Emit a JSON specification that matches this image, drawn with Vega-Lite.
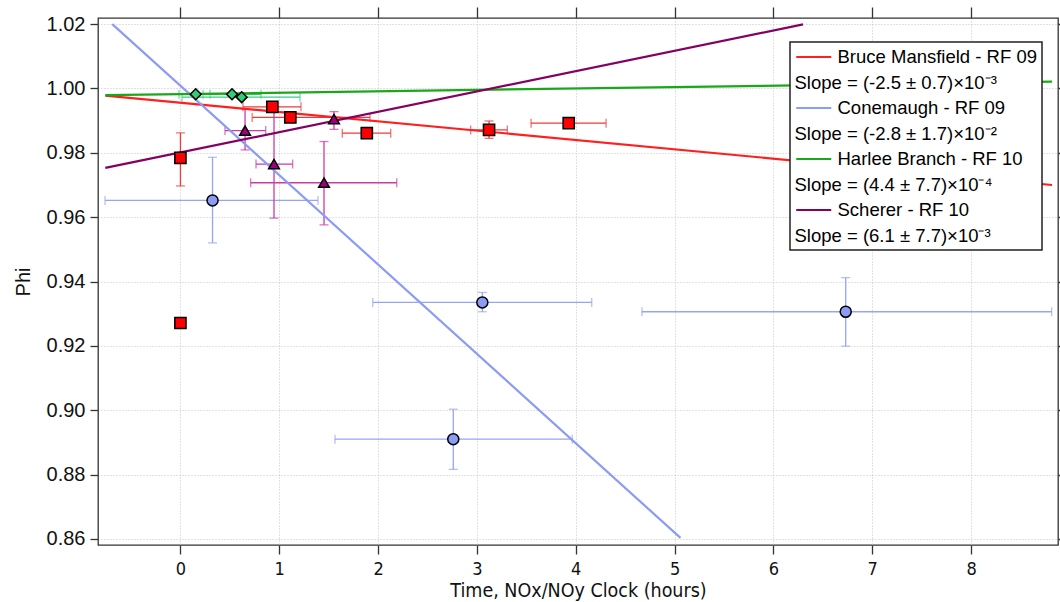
{
  "$schema": "https://vega.github.io/schema/vega-lite/v6.json",
  "autosize": {"type": "none"},
  "width": 960,
  "height": 527,
  "padding": {"left": 98, "top": 18, "right": 2, "bottom": 57},
  "background": "white",
  "datasets": {
    "pts": [
      {"series": "Bruce Mansfield - RF 09", "x": 0.0, "y": 0.9271, "xlo": null, "xhi": null, "ylo": null, "yhi": null},
      {"series": "Bruce Mansfield - RF 09", "x": 0.0, "y": 0.9784, "xlo": null, "xhi": null, "ylo": 0.9697, "yhi": 0.9862},
      {"series": "Bruce Mansfield - RF 09", "x": 0.930, "y": 0.9943, "xlo": 0.633, "xhi": 1.220, "ylo": null, "yhi": null},
      {"series": "Bruce Mansfield - RF 09", "x": 1.112, "y": 0.9910, "xlo": 0.726, "xhi": 1.918, "ylo": null, "yhi": null},
      {"series": "Bruce Mansfield - RF 09", "x": 1.886, "y": 0.9861, "xlo": 1.638, "xhi": 2.128, "ylo": null, "yhi": null},
      {"series": "Bruce Mansfield - RF 09", "x": 3.123, "y": 0.9871, "xlo": 2.937, "xhi": 3.308, "ylo": 0.9845, "yhi": 0.9899},
      {"series": "Bruce Mansfield - RF 09", "x": 3.929, "y": 0.9892, "xlo": 3.548, "xhi": 4.307, "ylo": null, "yhi": null},
      {"series": "Conemaugh - RF 09", "x": 0.325, "y": 0.9652, "xlo": -0.763, "xhi": 1.392, "ylo": 0.9520, "yhi": 0.9786},
      {"series": "Conemaugh - RF 09", "x": 3.055, "y": 0.9335, "xlo": 1.946, "xhi": 4.162, "ylo": 0.9306, "yhi": 0.9366},
      {"series": "Conemaugh - RF 09", "x": 2.761, "y": 0.8910, "xlo": 1.564, "xhi": 3.965, "ylo": 0.8816, "yhi": 0.9003},
      {"series": "Conemaugh - RF 09", "x": 6.732, "y": 0.9306, "xlo": 4.670, "xhi": 8.816, "ylo": 0.9199, "yhi": 0.9412},
      {"series": "Harlee Branch - RF 10", "x": 0.155, "y": 0.9982, "xlo": -0.014, "xhi": 0.300, "ylo": null, "yhi": null},
      {"series": "Harlee Branch - RF 10", "x": 0.522, "y": 0.9982, "xlo": 0.229, "xhi": 0.816, "ylo": null, "yhi": null},
      {"series": "Harlee Branch - RF 10", "x": 0.620, "y": 0.9973, "xlo": 0.016, "xhi": 1.210, "ylo": null, "yhi": null},
      {"series": "Scherer - RF 10", "x": 0.654, "y": 0.9869, "xlo": 0.451, "xhi": 0.863, "ylo": 0.9809, "yhi": 0.9936},
      {"series": "Scherer - RF 10", "x": 0.947, "y": 0.9765, "xlo": 0.765, "xhi": 1.136, "ylo": 0.9597, "yhi": 0.9936},
      {"series": "Scherer - RF 10", "x": 1.453, "y": 0.9707, "xlo": 0.711, "xhi": 2.189, "ylo": 0.9576, "yhi": 0.9835},
      {"series": "Scherer - RF 10", "x": 1.554, "y": 0.9905, "xlo": null, "xhi": null, "ylo": 0.9873, "yhi": 0.9928}
    ],
    "fits": [
      {"series": "Bruce Mansfield - RF 09", "x": -0.76, "y": 0.9978},
      {"series": "Bruce Mansfield - RF 09", "x": 8.82, "y": 0.9700},
      {"series": "Conemaugh - RF 09", "x": -0.69, "y": 1.0200},
      {"series": "Conemaugh - RF 09", "x": 5.06, "y": 0.8603},
      {"series": "Harlee Branch - RF 10", "x": -0.76, "y": 0.9979},
      {"series": "Harlee Branch - RF 10", "x": 8.82, "y": 1.0021},
      {"series": "Scherer - RF 10", "x": -0.76, "y": 0.9753},
      {"series": "Scherer - RF 10", "x": 6.30, "y": 1.0199}
    ]
  },
  "layer": [
    {
      "data": {"name": "pts"},
      "transform": [{"filter": "isValid(datum.xlo)"}],
      "mark": {"type": "errorbar", "ticks": {"size": 9}, "thickness": 1.3},
      "encoding": {
        "x": {"field": "xlo", "type": "quantitative", "title": "Time, NOx/NOy Clock (hours)",
              "scale": {"domain": [-0.834, 8.88], "nice": false, "zero": false},
              "axis": {"orient": "bottom", "values": [0,1,2,3,4,5,6,7,8], "format": "d", "grid": true, "tickSize": 9, "labelPadding": 6, "titlePadding": 3,
                       "labelFont": "Liberation Sans Narrow, DejaVu Sans Condensed, Liberation Sans, sans-serif", "labelFontSize": 18,
                       "titleFont": "Liberation Sans Narrow, DejaVu Sans Condensed, Liberation Sans, sans-serif", "titleFontSize": 19.5, "titleFontWeight": "normal"}},
        "x2": {"field": "xhi"},
        "y": {"field": "y", "type": "quantitative", "title": "Phi",
              "scale": {"domain": [0.8581, 1.0219], "nice": false, "zero": false},
              "axis": {"orient": "left", "values": [0.86,0.88,0.9,0.92,0.94,0.96,0.98,1.0,1.02], "format": ".2f", "grid": true, "tickSize": 8, "labelPadding": 5, "titlePadding": 13,
                       "labelFont": "Liberation Sans, Arial, sans-serif", "labelFontSize": 20,
                       "titleFont": "Liberation Sans, Arial, sans-serif", "titleFontSize": 20, "titleFontWeight": "normal"}},
        "color": {"field": "series", "type": "nominal", "legend": null,
                  "scale": {"domain": ["Bruce Mansfield - RF 09", "Conemaugh - RF 09", "Harlee Branch - RF 10", "Scherer - RF 10"],
                            "range": ["#f03a3a", "#95a5f2", "#3ccb86", "#cc3aa8"]}}
      }
    },
    {
      "data": {"name": "pts"},
      "transform": [{"filter": "isValid(datum.ylo)"}],
      "mark": {"type": "errorbar", "ticks": {"size": 9}, "thickness": 1.3},
      "encoding": {
        "y": {"field": "ylo", "type": "quantitative", "title": "Phi", "axis": null, "scale": {"domain": [0.8581, 1.0219], "nice": false, "zero": false}},
        "y2": {"field": "yhi"},
        "x": {"field": "x", "type": "quantitative", "title": "Time, NOx/NOy Clock (hours)", "axis": null, "scale": {"domain": [-0.834, 8.88], "nice": false, "zero": false}},
        "color": {"field": "series", "type": "nominal", "legend": null,
                  "scale": {"domain": ["Bruce Mansfield - RF 09", "Conemaugh - RF 09", "Harlee Branch - RF 10", "Scherer - RF 10"],
                            "range": ["#f03a3a", "#95a5f2", "#3ccb86", "#cc3aa8"]}}
      }
    },
    {
      "data": {"name": "fits"},
      "mark": {"type": "line", "strokeWidth": 2.2},
      "encoding": {
        "x": {"field": "x", "type": "quantitative", "title": "Time, NOx/NOy Clock (hours)",
              "scale": {"domain": [-0.834, 8.88], "nice": false, "zero": false},
              "axis": {"orient": "top", "values": [0,1,2,3,4,5,6,7,8], "labels": false, "title": null, "grid": false, "tickSize": 11}},
        "y": {"field": "y", "type": "quantitative", "title": "Phi",
              "scale": {"domain": [0.8581, 1.0219], "nice": false, "zero": false},
              "axis": {"orient": "right", "values": [0.86,0.88,0.9,0.92,0.94,0.96,0.98,1.0,1.02], "labels": false, "title": null, "grid": false, "tickSize": 8}},
        "color": {"field": "series", "type": "nominal",
                  "scale": {"domain": ["Bruce Mansfield - RF 09", "Slope = (-2.5 ± 0.7)×10⁻³", "Conemaugh - RF 09", "Slope = (-2.8 ± 1.7)×10⁻²", "Harlee Branch - RF 10", "Slope = (4.4 ± 7.7)×10⁻⁴", "Scherer - RF 10", "Slope = (6.1 ± 7.7)×10⁻³"],
                            "range": ["#ff1f1f", "rgba(0,0,0,0)", "#8c9cf4", "rgba(0,0,0,0)", "#1aa81a", "rgba(0,0,0,0)", "#850064", "rgba(0,0,0,0)"]},
                  "legend": {"orient": "none", "legendX": 692, "legendY": 24, "title": null,
                             "symbolType": "M-1,0H3", "symbolSize": 306, "symbolStrokeWidth": 2,
                             "labelFont": "Liberation Sans, Arial, sans-serif", "labelFontSize": 18.5, "labelColor": "#000", "labelLimit": 400,
                             "labelOffset": 22.5, "rowPadding": 5.5, "padding": 5, "fillColor": "white", "strokeColor": "#222",
                             "encode": {"labels": {"update": {"dx": {"signal": "indexof(datum.label, 'Slope') == 0 ? -43 : 0"}}},
                                        "legend": {"update": {"strokeWidth": {"value": 1.5}}}}}}
      }
    },
    {
      "data": {"name": "pts"},
      "mark": {"type": "point", "filled": true, "stroke": "black", "strokeWidth": 1.5, "opacity": 1, "fillOpacity": 1},
      "encoding": {
        "x": {"field": "x", "type": "quantitative", "title": "Time, NOx/NOy Clock (hours)", "axis": null, "scale": {"domain": [-0.834, 8.88], "nice": false, "zero": false}},
        "y": {"field": "y", "type": "quantitative", "title": "Phi", "axis": null, "scale": {"domain": [0.8581, 1.0219], "nice": false, "zero": false}},
        "fill": {"field": "series", "type": "nominal", "legend": null,
                 "scale": {"domain": ["Bruce Mansfield - RF 09", "Conemaugh - RF 09", "Harlee Branch - RF 10", "Scherer - RF 10"],
                           "range": ["#ff0000", "#8c9cf4", "#33cc77", "#a0007e"]}},
        "shape": {"field": "series", "type": "nominal", "legend": null,
                  "scale": {"domain": ["Bruce Mansfield - RF 09", "Conemaugh - RF 09", "Harlee Branch - RF 10", "Scherer - RF 10"],
                            "range": ["square", "circle", "diamond", "triangle-up"]}},
        "size": {"field": "series", "type": "nominal", "legend": null,
                 "scale": {"domain": ["Bruce Mansfield - RF 09", "Conemaugh - RF 09", "Harlee Branch - RF 10", "Scherer - RF 10"],
                           "range": [125, 115, 250, 150]}}
      }
    }
  ],
  "resolve": {"scale": {"color": "independent"}, "legend": {"color": "independent"}},
  "config": {
    "view": {"stroke": "#333", "strokeWidth": 1.3},
    "axis": {"domain": false, "tickColor": "#333", "tickWidth": 1.3, "labelColor": "#111", "titleColor": "#111",
             "gridColor": "#c4c4c4", "gridDash": [1, 2], "gridWidth": 1}
  }
}
